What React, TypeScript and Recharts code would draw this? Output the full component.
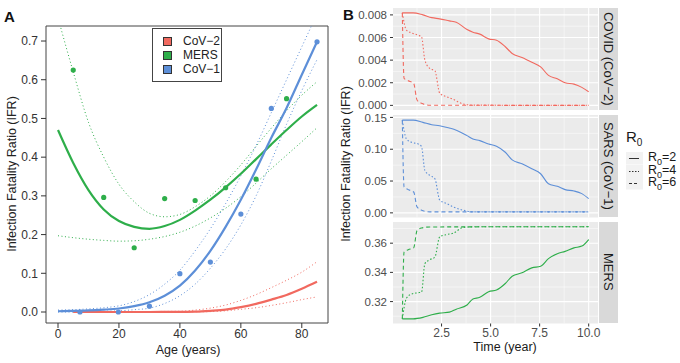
import { ComposedChart, LineChart, Line, Scatter, XAxis, YAxis, CartesianGrid, ReferenceArea } from 'recharts'

// ---- panel A: IFR by age ----
const ages = [0, 5, 10, 15, 20, 25, 30, 35, 40, 45, 50, 55, 60, 65, 70, 75, 80, 85]
const mersFit = [0.47, 0.385, 0.315, 0.265, 0.235, 0.22, 0.215, 0.222, 0.238, 0.262, 0.29, 0.322, 0.357, 0.395, 0.433, 0.47, 0.505, 0.535]
const mersUpper = [0.76, 0.62, 0.49, 0.4, 0.33, 0.285, 0.255, 0.246, 0.252, 0.272, 0.3, 0.337, 0.38, 0.428, 0.475, 0.52, 0.56, 0.595]
const mersLower = [0.197, 0.192, 0.188, 0.185, 0.183, 0.184, 0.188, 0.195, 0.206, 0.222, 0.243, 0.268, 0.298, 0.333, 0.37, 0.405, 0.44, 0.476]
const cov1Fit = [0.002, 0.003, 0.004, 0.006, 0.009, 0.015, 0.025, 0.042, 0.068, 0.107, 0.158, 0.22, 0.29, 0.368, 0.45, 0.527, 0.613, 0.698]
const cov1Upper = [0.005, 0.006, 0.008, 0.011, 0.016, 0.027, 0.045, 0.072, 0.108, 0.158, 0.215, 0.28, 0.352, 0.43, 0.515, 0.6, 0.685, 0.77]
const cov1Lower = [0, 0, 0.001, 0.002, 0.003, 0.006, 0.01, 0.022, 0.042, 0.072, 0.113, 0.163, 0.225, 0.3, 0.39, 0.485, 0.572, 0.652]
const cov2Ages = [5, 10, 15, 20, 25, 30, 35, 40, 45, 50, 55, 60, 65, 70, 75, 80, 85]
const cov2Fit = [0, 0, 0, 0, 0, 0, 0.0002, 0.0005, 0.001, 0.003, 0.006, 0.0125, 0.021, 0.032, 0.044, 0.06, 0.078]
const cov2Upper = [0, 0, 0, 0.0005, 0.0008, 0.001, 0.0015, 0.002, 0.005, 0.01, 0.018, 0.03, 0.045, 0.063, 0.082, 0.103, 0.13]
const cov2Lower = [0, 0, 0, 0, 0, 0, 0, 0, 0.0005, 0.001, 0.003, 0.007, 0.011, 0.017, 0.024, 0.032, 0.039]
const mersPtAge = [5, 15, 25, 35, 45, 55, 65, 75]
const mersPtIfr = [0.625, 0.296, 0.166, 0.293, 0.288, 0.321, 0.343, 0.551]
const cov1PtAge = [7.2, 19.8, 30, 40, 50, 60, 70, 85]
const cov1PtIfr = [0, 0, 0.015, 0.099, 0.129, 0.253, 0.526, 0.698]
const ageTicks = [0, 20, 40, 60, 80]
const ifrTicks = [0, 0.1, 0.2, 0.3, 0.4, 0.5, 0.6, 0.7]

// ---- panel B: IFR over time ----
const tSolid = [0.5, 1.05, 1.55, 2.0, 2.4, 2.9, 3.25, 3.8, 4.1, 4.45, 4.9, 5.3, 5.75, 6.1, 6.6, 7.1, 7.55, 7.95, 8.4, 8.8, 9.25, 9.65, 10.0]
const covidSolid = [0.00818, 0.00818, 0.008, 0.00776, 0.00765, 0.00747, 0.00735, 0.0067, 0.00647, 0.0063, 0.00588, 0.00576, 0.00518, 0.00459, 0.00424, 0.00382, 0.00341, 0.00265, 0.00235, 0.002, 0.00188, 0.00159, 0.0012]
const sarsSolid = [0.1458, 0.1458, 0.1422, 0.1385, 0.137, 0.1333, 0.13, 0.1214, 0.1161, 0.1135, 0.1083, 0.1047, 0.0953, 0.0833, 0.0771, 0.0693, 0.0615, 0.0458, 0.0417, 0.0365, 0.0344, 0.0302, 0.0224]
const mersSolid = [0.3082, 0.3082, 0.3092, 0.311, 0.3121, 0.3128, 0.3148, 0.3177, 0.3218, 0.3229, 0.3268, 0.3279, 0.3324, 0.3374, 0.3397, 0.3431, 0.3442, 0.3494, 0.3528, 0.3544, 0.3568, 0.358, 0.3625]
const tDot = [0.5, 0.71, 0.97, 1.31, 1.48, 1.65, 1.9, 2.16, 2.41, 2.76, 3.09, 3.6, 4.1, 10]
const covidDot = [0.00818, 0.00665, 0.00641, 0.0062, 0.00606, 0.004, 0.00326, 0.00306, 0.00106, 0.00076, 0.00053, 0.00012, 0.00002, 0.00001]
const sarsDot = [0.1458, 0.1161, 0.1109, 0.1083, 0.1042, 0.0667, 0.0589, 0.0536, 0.0198, 0.0146, 0.0094, 0.0042, 0.0016, 0.0015]
const mersDot = [0.3082, 0.3223, 0.3252, 0.3261, 0.3265, 0.346, 0.3487, 0.3505, 0.3645, 0.3659, 0.3668, 0.3708, 0.3712, 0.3713]
const tDash = [0.5, 0.59, 0.8, 1.08, 1.25, 1.48, 1.9, 10]
const covidDash = [0.00818, 0.00238, 0.00218, 0.00194, 0.00047, 0.00018, 0.00001, 0]
const sarsDash = [0.1458, 0.0406, 0.0365, 0.0328, 0.0094, 0.0042, 0.0016, 0.0015]
const mersDash = [0.3082, 0.3539, 0.3555, 0.3568, 0.3686, 0.3704, 0.3711, 0.3713]
const timeTicks = [2.5, 5, 7.5, 10]
const timeMinor = [1.25, 3.75, 6.25, 8.75]

const RED = '#F1695F'
const GREEN = '#2EAE4A'
const BLUE = '#5D8FD8'
const FONT = '"Liberation Sans", Arial, Helvetica, sans-serif'

const pts = (xs: number[], ys: number[]) => xs.map((x, i) => ({ x, y: ys[i] }))

function dotShape(color: string) {
  return (p: any) => <circle cx={p.cx} cy={p.cy} r={2.6} fill={color} />
}

function PanelA() {
  const bands: [number[], number[], string][] = [
    [ages, mersUpper, GREEN], [ages, mersLower, GREEN],
    [ages, cov1Upper, BLUE], [ages, cov1Lower, BLUE],
    [cov2Ages, cov2Upper, RED], [cov2Ages, cov2Lower, RED],
  ]
  return (
    <ComposedChart width={340} height={363} margin={{ top: 26, right: 12, bottom: 0, left: 0 }}>
      <XAxis type="number" dataKey="x" domain={[-3.94, 88.6]} ticks={ageTicks} interval={0} allowDataOverflow height={40}
        axisLine={false} tickSize={5} tickMargin={1} tickLine={{ stroke: '#333' }} tick={{ fill: '#333', fontSize: 12 }} />
      <YAxis type="number" dataKey="y" domain={[-0.0284, 0.7388]} ticks={ifrTicks} interval={0} allowDataOverflow width={46}
        axisLine={false} tickSize={5} tickMargin={3} tickLine={{ stroke: '#333' }} tick={{ fill: '#333', fontSize: 12 }}
        tickFormatter={(v: number) => v.toFixed(1)} />
      <ReferenceArea x1={-3.94} x2={88.6} y1={-0.0284} y2={0.7388} fill="none" stroke="#444" strokeWidth={1} fillOpacity={0} />
      {bands.map(([xs, ys, c], i) => (
        <Line key={i} data={pts(xs, ys)} dataKey="y" type="monotone" stroke={c} strokeWidth={1} strokeDasharray="1 2.5"
          dot={false} isAnimationActive={false} />
      ))}
      <Line data={pts(cov2Ages, cov2Fit)} dataKey="y" type="monotone" stroke={RED} strokeWidth={2.2} dot={false} isAnimationActive={false} />
      <Line data={pts(ages, mersFit)} dataKey="y" type="monotone" stroke={GREEN} strokeWidth={2.2} dot={false} isAnimationActive={false} />
      <Line data={pts(ages, cov1Fit)} dataKey="y" type="monotone" stroke={BLUE} strokeWidth={2.2} dot={false} isAnimationActive={false} />
      <Scatter data={pts(mersPtAge, mersPtIfr)} dataKey="y" shape={dotShape(GREEN)} isAnimationActive={false} />
      <Scatter data={pts(cov1PtAge, cov1PtIfr)} dataKey="y" shape={dotShape(BLUE)} isAnimationActive={false} />
    </ComposedChart>
  )
}

type FacetProps = {
  top: number; plotH: number; bottomAxis: boolean
  domain: [number, number]; ticks: number[]; minor: number[]; digits: number
  color: string; solid: number[]; dot: number[]; dash: number[]; strip: string
}

const PAD = 8

function Facet({ top, plotH, bottomAxis, domain, ticks, minor, digits, color, solid, dot, dash, strip }: FacetProps) {
  const axisH = bottomAxis ? 26 : 0
  const bottomPad = bottomAxis ? 0 : PAD
  const h = PAD + plotH + axisH + bottomPad
  return (
    <div style={{ position: 'absolute', left: 340, top: top - PAD, width: 282, height: h }}>
      <LineChart width={272} height={h} margin={{ top: PAD, right: 14, bottom: bottomPad, left: 0 }}>
        <CartesianGrid fill="#EBEBEB" stroke="#fff" strokeWidth={0.5} horizontalValues={minor} verticalValues={timeMinor} />
        <CartesianGrid stroke="#fff" strokeWidth={1.1} horizontalValues={ticks} verticalValues={timeTicks} />
        <XAxis type="number" dataKey="x" domain={[0.025, 10.475]} ticks={timeTicks} interval={0} allowDataOverflow height={axisH}
          hide={!bottomAxis} axisLine={false} tickSize={3} tickMargin={2} tickLine={{ stroke: '#333' }}
          tick={{ fill: '#4D4D4D', fontSize: 12 }} tickFormatter={(v: number) => v.toFixed(1)} />
        <YAxis type="number" dataKey="y" domain={domain} ticks={ticks} interval={0} allowDataOverflow width={53}
          axisLine={false} tickSize={3} tickMargin={3} tickLine={{ stroke: '#333' }}
          tick={{ fill: '#4D4D4D', fontSize: 11.5 }} tickFormatter={(v: number) => v.toFixed(digits)} />
        <Line data={pts(tDash, dash)} dataKey="y" type="monotone" stroke={color} strokeWidth={1.1} strokeDasharray="4 3" dot={false} isAnimationActive={false} />
        <Line data={pts(tDot, dot)} dataKey="y" type="monotone" stroke={color} strokeWidth={1.1} strokeDasharray="1.5 2" dot={false} isAnimationActive={false} />
        <Line data={pts(tSolid, solid)} dataKey="y" type="monotone" stroke={color} strokeWidth={1.1} dot={false} isAnimationActive={false} />
      </LineChart>
      <div style={{ position: 'absolute', left: 259, top: PAD, width: 19, height: plotH, background: '#D9D9D9',
        writingMode: 'vertical-rl', display: 'flex', alignItems: 'center', justifyContent: 'center',
        fontSize: 13, color: '#1A1A1A', whiteSpace: 'nowrap' }}>{strip}</div>
    </div>
  )
}

function LegendKey({ dash, label }: { dash?: string; label: string }) {
  return (
    <div style={{ display: 'flex', alignItems: 'center', height: 12.5 }}>
      <svg width={17} height={12.5} style={{ display: 'block' }}>
        <rect x={0} y={0} width={17} height={12.5} fill="#F2F2F2" />
        <line x1={3} x2={13} y1={6.5} y2={6.5} stroke="#333" strokeWidth={1} strokeDasharray={dash} />
      </svg>
      <span style={{ marginLeft: 5, fontSize: 12.5, color: '#1A1A1A' }}>R<sub style={{ fontSize: 9 }}>0</sub>={label}</span>
    </div>
  )
}

export default function App() {
  const legendA: [string, string][] = [['CoV\u22122', RED], ['MERS', GREEN], ['CoV\u22121', BLUE]]
  return (
    <div style={{ position: 'absolute', left: 0, top: 0, width: 680, height: 363, background: '#fff', fontFamily: FONT, overflow: 'hidden' }}>
      <PanelA />
      <div style={{ position: 'absolute', left: 4, top: 8, fontSize: 15, fontWeight: 'bold', color: '#111' }}>A</div>
      <div style={{ position: 'absolute', left: 12 - 150, top: 175 - 8, width: 300, textAlign: 'center', fontSize: 12.5, color: '#222', transform: 'rotate(-90deg)' }}>
        Infection Fatality Ratio (IFR)
      </div>
      <div style={{ position: 'absolute', left: 188 - 60, top: 343, width: 120, textAlign: 'center', fontSize: 12.5, color: '#222' }}>Age (years)</div>
      <div style={{ position: 'absolute', left: 152, top: 28, width: 70, height: 54, border: '1px solid #444', background: '#fff', padding: '5px 0 0 10px', boxSizing: 'border-box' }}>
        {legendA.map(([name, c]) => (
          <div key={name} style={{ display: 'flex', alignItems: 'center', height: 14 }}>
            <span style={{ width: 7, height: 7, background: c, border: '0.5px solid #333', display: 'inline-block' }} />
            <span style={{ marginLeft: 11, fontSize: 12, color: '#222' }}>{name}</span>
          </div>
        ))}
      </div>

      <div style={{ position: 'absolute', left: 343, top: 6, fontSize: 15, fontWeight: 'bold', color: '#111' }}>B</div>
      <Facet top={8} plotH={102} bottomAxis={false} domain={[-0.00041, 0.00861]} ticks={[0, 0.002, 0.004, 0.006, 0.008]}
        minor={[0.001, 0.003, 0.005, 0.007]} digits={3} color={RED} solid={covidSolid} dot={covidDot} dash={covidDash} strip={'COVID (CoV\u22122)'} />
      <Facet top={114.5} plotH={102.5} bottomAxis={false} domain={[-0.0073, 0.1538]} ticks={[0, 0.05, 0.1, 0.15]}
        minor={[0.025, 0.075, 0.125]} digits={2} color={BLUE} solid={sarsSolid} dot={sarsDot} dash={sarsDash} strip={'SARS (CoV\u22121)'} />
      <Facet top={221.5} plotH={101.5} bottomAxis={true} domain={[0.305, 0.3745]} ticks={[0.32, 0.34, 0.36]}
        minor={[0.31, 0.33, 0.35, 0.37]} digits={2} color={GREEN} solid={mersSolid} dot={mersDot} dash={mersDash} strip="MERS" />
      <div style={{ position: 'absolute', left: 346 - 150, top: 165 - 8, width: 300, textAlign: 'center', fontSize: 12.5, color: '#1A1A1A', transform: 'rotate(-90deg)' }}>
        Infection Fatality Ratio (IFR)
      </div>
      <div style={{ position: 'absolute', left: 505 - 60, top: 340, width: 120, textAlign: 'center', fontSize: 12.5, color: '#1A1A1A' }}>Time (year)</div>
      <div style={{ position: 'absolute', left: 626, top: 128, color: '#1A1A1A' }}>
        <div style={{ fontSize: 15, marginBottom: 4 }}>R<sub style={{ fontSize: 10 }}>0</sub></div>
        <LegendKey label="2" />
        <LegendKey dash="1.5 1.5" label="4" />
        <LegendKey dash="3 2" label="6" />
      </div>
    </div>
  )
}
